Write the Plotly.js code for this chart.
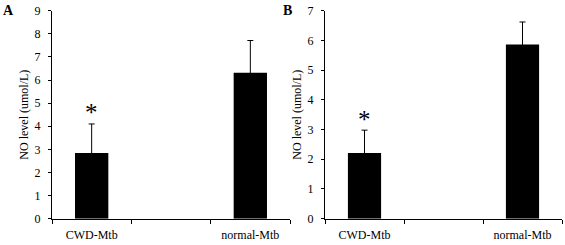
<!DOCTYPE html>
<html>
<head>
<meta charset="utf-8">
<script src="https://cdn.plot.ly/plotly-3.0.1.min.js"></script>
<style>html,body{margin:0;padding:0;background:#fff;}#chart{width:565px;height:245px;}</style>
</head>
<body>
<div id="chart"></div>
<script>
// Category slots on the x axis (middle slot is an empty spacer, as in the original)
const axisCategories = ['CWD-Mtb', ' ', 'normal-Mtb'];
const categories = ['CWD-Mtb', 'normal-Mtb'];
// Panel A
const panelA_values = [2.84, 6.32];
const panelA_errors = [1.26, 1.39];
// Panel B
const panelB_values = [2.21, 5.86];
const panelB_errors = [0.77, 0.76];
const panelLabels = ['A', 'B'];
const yTitle = 'NO level (umol/L)';
const significance = ['*', ''];

const FONT = 'Liberation Serif, Times New Roman, serif';

function barTrace(vals, errs, xa, ya) {
  return {
    type: 'bar', x: categories, y: vals, xaxis: xa, yaxis: ya,
    width: 0.42,
    marker: {color: '#000000', line: {width: 0}},
    error_y: {type: 'data', array: errs, visible: true, color: '#000000', thickness: 1, width: 3},
    hoverinfo: 'none', showlegend: false
  };
}

const traces = [
  barTrace(panelA_values, panelA_errors, 'x', 'y'),
  barTrace(panelB_values, panelB_errors, 'x2', 'y2')
];

function xAxis(domain, anchor) {
  return {
    domain: domain, anchor: anchor, type: 'category',
    categoryarray: axisCategories, categoryorder: 'array',
    range: [-0.5, 2.5],
    showline: true, linecolor: '#000', linewidth: 1,
    ticks: 'outside', tickson: 'boundaries', ticklen: 4, tickcolor: '#000', tickwidth: 1,
    ticklabelstandoff: 5,
    tickfont: {family: FONT, size: 12, color: '#000'},
    showgrid: false, zeroline: false, fixedrange: true
  };
}
function yAxis(domain, anchor, maxv) {
  return {
    domain: domain, anchor: anchor, range: [0, maxv], dtick: 1, tick0: 0,
    showline: true, linecolor: '#000', linewidth: 1,
    ticks: 'outside', ticklen: 3, tickcolor: '#000', tickwidth: 1,
    ticklabelstandoff: 5,
    tickfont: {family: FONT, size: 12, color: '#000'},
    title: {text: yTitle, font: {family: FONT, size: 12, color: '#000'}, standoff: 3},
    showgrid: false, zeroline: false, fixedrange: true
  };
}

const yDom = [0.1073, 0.9563];
const annotations = [];
[[panelA_values, panelA_errors, 'x', 'y'], [panelB_values, panelB_errors, 'x2', 'y2']].forEach(function (p) {
  categories.forEach(function (c, i) {
    if (significance[i]) {
      annotations.push({
        xref: p[2], yref: p[3], x: c, y: p[0][i] + p[1][i],
        text: significance[i], showarrow: false, yanchor: 'middle', yshift: 11,
        font: {family: FONT, size: 25, color: '#000'}
      });
    }
  });
});
annotations.push({xref: 'paper', yref: 'paper', x: 8.5 / 565, y: 1 - 10 / 245, text: '<b>' + panelLabels[0] + '</b>',
  showarrow: false, xanchor: 'center', yanchor: 'middle', font: {family: FONT, size: 14, color: '#000'}});
annotations.push({xref: 'paper', yref: 'paper', x: 287.5 / 565, y: 1 - 10 / 245, text: '<b>' + panelLabels[1] + '</b>',
  showarrow: false, xanchor: 'center', yanchor: 'middle', font: {family: FONT, size: 14, color: '#000'}});

const layout = {
  width: 565, height: 245,
  margin: {l: 0, r: 0, t: 0, b: 0, pad: 0},
  paper_bgcolor: '#fff', plot_bgcolor: '#fff',
  font: {family: FONT, color: '#000'},
  showlegend: false,
  xaxis: xAxis([52 / 565, 290 / 565], 'y'),
  yaxis: yAxis(yDom, 'x', 9),
  xaxis2: xAxis([325 / 565, 562 / 565], 'y2'),
  yaxis2: yAxis(yDom, 'x2', 7),
  annotations: annotations
};

Plotly.newPlot('chart', traces, layout, {staticPlot: true, displayModeBar: false});
</script>
</body>
</html>
